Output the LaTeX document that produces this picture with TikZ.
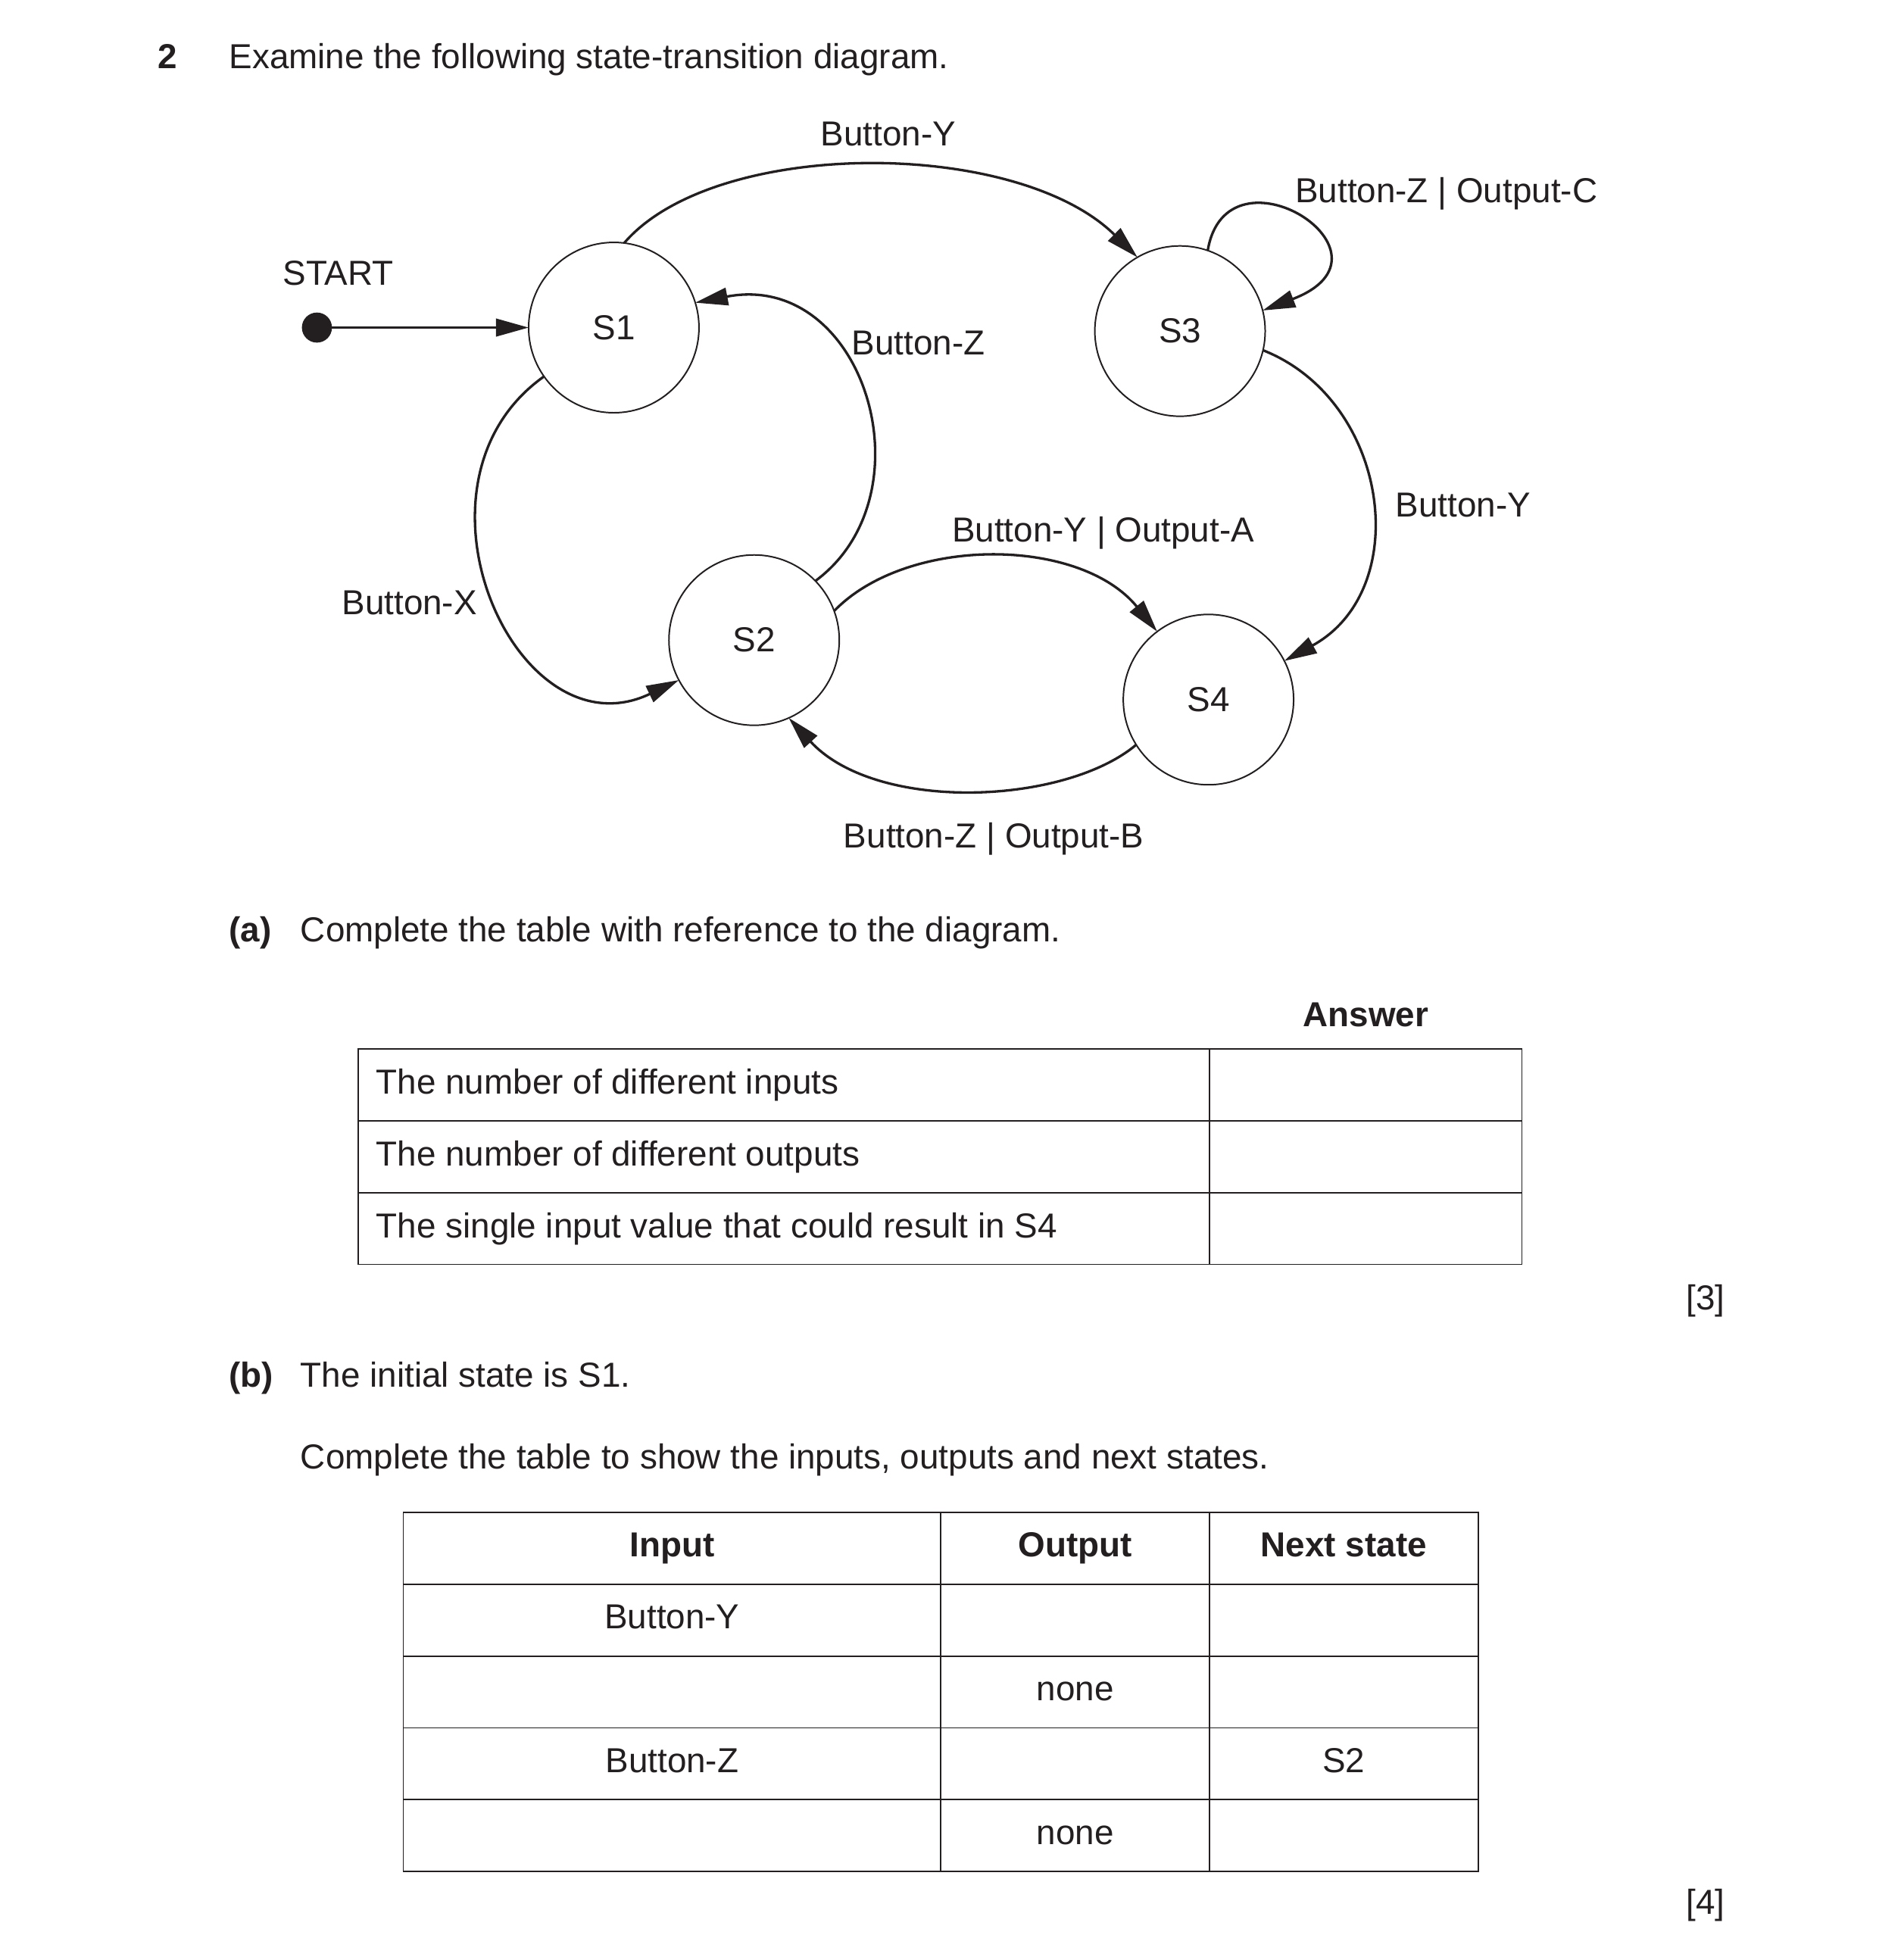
\documentclass[tikz,border=0pt]{standalone}
\usepackage{fontspec}
\setmainfont{Liberation Sans}
\usetikzlibrary{arrows.meta}
\definecolor{ink}{RGB}{35,31,32}
\newcommand{\qfs}{\fontsize{13.85}{16.6}\selectfont}
\begin{document}
\begin{tikzpicture}[x=0.5pt,y=-0.5pt,
  every node/.style={inner sep=0pt, outer sep=0pt, text=ink},
  tl/.style={font=\qfs, anchor=base west},
  tc/.style={font=\qfs, anchor=base},
  bl/.style={font=\qfs\bfseries, anchor=base west},
  bc/.style={font=\qfs\bfseries, anchor=base},
  stnode/.style={draw=ink, circle, line width=0.6pt, minimum size=68pt, font=\qfs},
  arr/.style={draw=ink, line width=1.0pt, -{Triangle[length=13pt,width=7pt]}},
  tabline/.style={draw=ink, line width=0.5pt}
]
\path[fill=white, use as bounding box] (0,0) rectangle (1500,1564.7);

% heading
\node[bl] (qnum) at (126,54.5) {2};
\node[tl] (title) at (183,54.5) {Examine the following state-transition diagram.};

% states
\node[stnode] (S1) at (490,261.5) {S1};
\node[stnode] (S2) at (602,511) {S2};
\node[stnode] (S3) at (942,264.3) {S3};
\node[stnode] (S4) at (964.7,558.5) {S4};
\node[circle, fill=ink, minimum size=12pt] (dot) at (253,261.5) {};
\node[tc] (startlbl) at (270,227.7) {START};

% transitions
\draw[arr] (dot) -- (S1);
\draw[arr] (S1.83) .. controls +(72,-84) and +(-97,-95.5) .. (S3.120);
\draw[arr] (S3.71) .. controls +(15,-90) and +(118,-45) .. (S3.14);
\draw[arr] (S2.44) .. controls +(93.4,-69) and +(135,-26) .. (S1.17);
\draw[arr] (S1.215) .. controls +(-120,85) and +(-130,62) .. (S2.208);
\draw[arr] (S2.20) .. controls +(58,-60) and +(-62,-76) .. (S4.127);
\draw[arr] (S3.347) .. controls +(101,40) and +(104,-57) .. (S4.27);
\draw[arr] (S4.212) .. controls +(-57,48) and +(70,76) .. (S2.294);

% transition labels
\node[tc] (lbY1) at (709,116.5) {Button-Y};
\node[tl] (lbZC) at (1034,162) {Button-Z | Output-C};
\node[tl] (lbZ1) at (680,283.5) {Button-Z};
\node[tl] (lbY2) at (1114,412.7) {Button-Y};
\node[tl] (lbYA) at (760,432.5) {Button-Y | Output-A};
\node[tl] (lbX) at (273,490.4) {Button-X};
\node[tl] (lbZB) at (673.5,677) {Button-Z | Output-B};

% part (a)
\node[bl] (pa) at (183,751.6) {(a)};
\node[tl] (pat) at (240,751.6) {Complete the table with reference to the diagram.};
\node[bc] (ans) at (1090.25,819.4) {Answer};
\draw[tabline] (286,837.5) rectangle (1215,1009.4);
\draw[tabline] (286,894.8) -- (1215,894.8);
\draw[tabline] (286,952.1) -- (1215,952.1);
\draw[tabline] (965.5,837.5) -- (965.5,1009.4);
\node[tl] (ra1) at (300.4,873.5) {The number of different inputs};
\node[tl] (ra2) at (300.4,930.8) {The number of different outputs};
\node[tl] (ra3) at (300.4,988.1) {The single input value that could result in S4};
\node[font=\qfs, anchor=base east] (mk3) at (1377,1045.6) {[3]};

% part (b)
\node[bl] (pb) at (183,1107.3) {(b)};
\node[tl] (pbt) at (240,1107.3) {The initial state is S1.};
\node[tl] (pbt2) at (240,1172.5) {Complete the table to show the inputs, outputs and next states.};
\draw[tabline] (322,1207.5) rectangle (1180,1494);
\foreach \yy in {1264.8,1322.1,1379.4,1436.7}
  \draw[tabline] (322,\yy) -- (1180,\yy);
\draw[tabline] (751,1207.5) -- (751,1494);
\draw[tabline] (965.5,1207.5) -- (965.5,1494);
\node[bc] (hIn) at (536.5,1243) {Input};
\node[bc] (hOut) at (858.25,1243) {Output};
\node[bc] (hNext) at (1072.75,1243) {Next state};
\node[tc] (c21) at (536.5,1300.3) {Button-Y};
\node[tc] (c32) at (858.25,1357.6) {none};
\node[tc] (c41) at (536.5,1414.9) {Button-Z};
\node[tc] (c43) at (1072.75,1414.9) {S2};
\node[tc] (c52) at (858.25,1472.2) {none};
\node[font=\qfs, anchor=base east] (mk4) at (1377,1528) {[4]};
\end{tikzpicture}
\end{document}
